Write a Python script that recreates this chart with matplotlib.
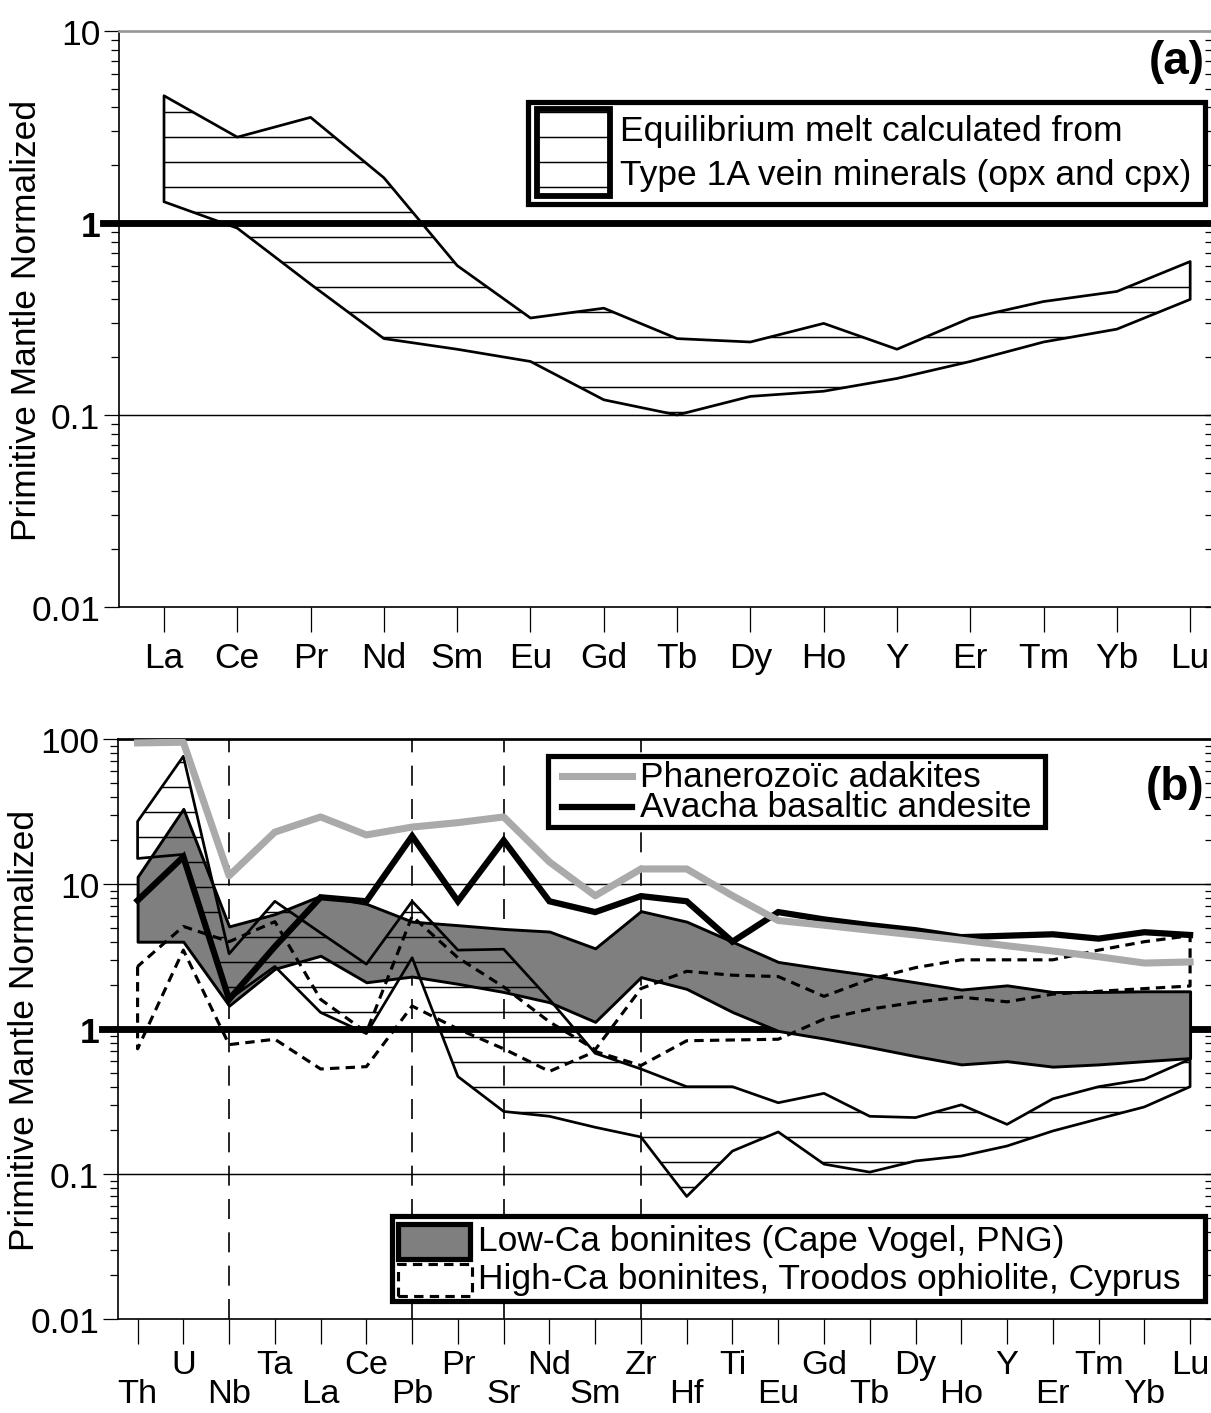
import numpy as np
import matplotlib
matplotlib.use("Agg")
import matplotlib.pyplot as plt
from matplotlib.patches import Rectangle
from matplotlib.lines import Line2D
from matplotlib.ticker import LogLocator, NullFormatter

plt.rcParams['font.family'] = ['Liberation Sans', 'DejaVu Sans']
plt.rcParams['hatch.linewidth'] = 0.7

# --- panel (a): REE of the equilibrium melt ---
ree = ['La', 'Ce', 'Pr', 'Nd', 'Sm', 'Eu', 'Gd', 'Tb', 'Dy', 'Ho', 'Y', 'Er', 'Tm', 'Yb', 'Lu']
melt_hi_a = [4.6, 2.8, 3.55, 1.72, 0.6, 0.32, 0.36, 0.25, 0.24, 0.3, 0.22, 0.32, 0.39, 0.44, 0.63]
melt_lo_a = [1.29, 0.94, 0.48, 0.25, 0.22, 0.19, 0.12, 0.1, 0.125, 0.133, 0.155, 0.19, 0.24, 0.28, 0.40]

# --- panel (b): extended spider diagram ---
elems = ['Th', 'U', 'Nb', 'Ta', 'La', 'Ce', 'Pb', 'Pr', 'Sr', 'Nd', 'Sm', 'Zr',
         'Hf', 'Ti', 'Eu', 'Gd', 'Tb', 'Dy', 'Ho', 'Y', 'Er', 'Tm', 'Yb', 'Lu']
adakites = [94, 95, 11.4, 22.8, 29, 21.8, 24.7, 26.5, 29, 14.2, 8.3, 12.7,
            12.7, 8.3, 5.6, 5.2, 4.8, 4.45, 4.1, 3.75, 3.45, 3.15, 2.85, 2.9]
avacha = [7.7, 15.4, 1.6, 3.7, 8.1, 7.6, 21.4, 7.6, 20, 7.6, 6.4, 8.25,
          7.6, 4.0, 6.4, 5.7, 5.2, 4.8, 4.3, 4.4, 4.5, 4.2, 4.65, 4.45]
lowca_hi = [11.2, 33, 5.1, 6.2, 8.3, 7.3, 5.5, 5.2, 4.9, 4.7, 3.6, 6.5,
            5.5, 4.0, 2.9, 2.6, 2.35, 2.1, 1.87, 2.0, 1.8, 1.8, 1.82, 1.82]
lowca_lo = [4.0, 4.0, 1.45, 2.6, 3.2, 2.1, 2.3, 2.05, 1.8, 1.53, 1.12, 2.28,
            1.89, 1.31, 0.97, 0.86, 0.75, 0.65, 0.57, 0.6, 0.55, 0.57, 0.6, 0.63]
melt_hi_b = [27, 76, 3.3, 7.6, 4.6, 2.8, 7.6, 3.5, 3.55, 1.6, 0.68, 0.53,
             0.4, 0.4, 0.31, 0.36, 0.25, 0.245, 0.3, 0.22, 0.33, 0.4, 0.45, 0.62]
melt_lo_b = [15, 16, 1.6, 2.7, 1.3, 0.93, 3.1, 0.47, 0.27, 0.25, 0.21, 0.18,
             0.07, 0.144, 0.195, 0.117, 0.103, 0.123, 0.133, 0.156, 0.198, 0.24, 0.29, 0.40]
hica_hi = [2.7, 5.1, 4.0, 5.5, 1.6, 0.95, 6.0, 3.1, 1.95, 1.12, 0.72, 1.9,
           2.5, 2.35, 2.3, 1.68, 2.2, 2.65, 3.0, 3.0, 3.0, 3.5, 4.0, 4.4]
hica_lo = [0.73, 3.5, 0.78, 0.85, 0.53, 0.55, 1.44, 1.0, 0.73, 0.51, 0.7, 0.56,
           0.83, 0.84, 0.85, 1.17, 1.37, 1.53, 1.66, 1.54, 1.74, 1.82, 1.9, 1.98]
dashed_at = ['Nb', 'Pb', 'Sr', 'Zr']

W, H = 1211, 1414
fig = plt.figure(figsize=(W / 150, H / 150), dpi=150)
ax1 = fig.add_axes([119 / W, 1 - 608 / H, 1092 / W, 576 / H])
ax2 = fig.add_axes([118 / W, 1 - 1320 / H, 1093 / W, 580 / H])


def style_axes(ax, decades, top_color):
    ax.set_yscale('log')
    ax.set_ylim(decades[0], decades[-1])
    ax.set_yticks(decades)
    labels = ['%g' % d for d in decades]
    ax.set_yticklabels(labels)
    for t, d in zip(ax.get_yticklabels(), decades):
        if d == 1:
            t.set_fontweight('bold')
    ax.yaxis.set_minor_locator(LogLocator(base=10, subs=np.arange(2, 10) * 1.0, numticks=50))
    ax.yaxis.set_minor_formatter(NullFormatter())
    ax.tick_params(axis='y', which='major', direction='out', length=7, width=0.6,
                   labelsize=17, pad=2)
    ax.tick_params(axis='y', which='minor', direction='out', length=4, width=0.6)
    ax.spines['right'].set_visible(False)
    ax.spines['top'].set_color(top_color)
    ax.spines['top'].set_linewidth(1.3)
    ax.spines['left'].set_linewidth(0.8)
    ax.spines['bottom'].set_linewidth(0.8)
    for d in decades[1:-1]:
        if d != 1:
            ax.axhline(d, color='black', lw=0.7, zorder=1)
    ax.axhline(1, xmin=-0.015, color='black', lw=3.3, clip_on=False, zorder=1.5)
    ax.set_ylabel('Primitive Mantle Normalized', fontsize=17)
    ax.yaxis.set_label_coords(-0.07, 0.5)
    sec = ax.secondary_yaxis('right')
    sec.yaxis.set_minor_locator(LogLocator(base=10, subs=np.arange(2, 10) * 1.0, numticks=50))
    sec.tick_params(which='both', direction='in', length=3, width=0.6,
                    labelright=False)
    sec.spines['right'].set_visible(False)


# ---------------- panel (a) ----------------
style_axes(ax1, [0.01, 0.1, 1, 10], '#999999')
xa = np.arange(len(ree))
ax1.fill_between(xa, melt_lo_a, melt_hi_a, facecolor='none', edgecolor='black',
                 hatch='-', lw=1.3, zorder=3)
ax1.set_xlim(-0.614, 14.284)
ax1.set_xticks(xa)
ax1.set_xticklabels(ree)
ax1.tick_params(axis='x', direction='out', length=12, width=0.6, labelsize=17, pad=4.5)

ax1.add_patch(Rectangle((0.3745, 0.6997), 0.62, 0.177, transform=ax1.transAxes,
                        facecolor='white', edgecolor='black', lw=2.5, zorder=10))
ax1.add_patch(Rectangle((0.3828, 0.7135), 0.0668, 0.151, transform=ax1.transAxes,
                        facecolor='white', edgecolor='black', hatch='-', lw=2.8, zorder=11))
ax1.text(0.4588, 0.828, 'Equilibrium melt calculated from', transform=ax1.transAxes,
         ha='left', va='center', fontsize=17, zorder=12)
ax1.text(0.4588, 0.75, 'Type 1A vein minerals (opx and cpx)', transform=ax1.transAxes,
         ha='left', va='center', fontsize=17, zorder=12)
ax1.text(0.994, 0.948, '(a)', transform=ax1.transAxes, ha='right', va='center',
         fontsize=22, fontweight='bold', zorder=12)

# ---------------- panel (b) ----------------
style_axes(ax2, [0.01, 0.1, 1, 10, 100], 'black')
xb = np.arange(len(elems))
for el in dashed_at:
    ax2.axvline(elems.index(el), color='black', lw=0.8, dashes=(12, 8), zorder=1.2)

ax2.fill_between(xb, lowca_lo, lowca_hi, facecolor='#7f7f7f', edgecolor='black',
                 lw=1.4, zorder=2)
ax2.fill_between(xb, melt_lo_b, melt_hi_b, facecolor='none', edgecolor='black',
                 hatch='-', lw=1.3, zorder=3)
ax2.fill_between(xb, hica_lo, hica_hi, facecolor='none', edgecolor='black',
                 lw=1.5, linestyle=(0, (3, 2)), zorder=3.5)
ax2.plot(xb, avacha, color='black', lw=3.0, zorder=4, solid_joinstyle='miter')
ax2.plot(xb, adakites, color='#aaaaaa', lw=3.4, zorder=5)

ax2.set_xlim(-0.428, 23.457)
ax2.set_xticks(xb[::2])
ax2.set_xticklabels(elems[::2])
ax2.set_xticks(xb[1::2], minor=True)
ax2.set_xticklabels(elems[1::2], minor=True)
ax2.tick_params(axis='x', which='both', direction='out', length=12, width=0.6, labelsize=16.5)
ax2.tick_params(axis='x', which='major', pad=16.5)
ax2.tick_params(axis='x', which='minor', pad=2.5)

ax2.add_patch(Rectangle((0.3934, 0.848), 0.4547, 0.1227, transform=ax2.transAxes,
                        facecolor='white', edgecolor='black', lw=2.5, zorder=10))
ax2.add_line(Line2D([0.406, 0.470], [0.936, 0.936], transform=ax2.transAxes,
                    color='#aaaaaa', lw=3.4, zorder=11))
ax2.add_line(Line2D([0.406, 0.470], [0.8828, 0.8828], transform=ax2.transAxes,
                    color='black', lw=3.0, zorder=11))
ax2.text(0.4776, 0.936, 'Phanerozoïc adakites', transform=ax2.transAxes,
         ha='left', va='center', fontsize=17, zorder=12)
ax2.text(0.4776, 0.8828, 'Avacha basaltic andesite', transform=ax2.transAxes,
         ha='left', va='center', fontsize=17, zorder=12)

ax2.add_patch(Rectangle((0.2507, 0.031), 0.7438, 0.1466, transform=ax2.transAxes,
                        facecolor='white', edgecolor='black', lw=2.5, zorder=10))
ax2.add_patch(Rectangle((0.2562, 0.1034), 0.0658, 0.0604, transform=ax2.transAxes,
                        facecolor='#7f7f7f', edgecolor='black', lw=2.5, zorder=11))
ax2.add_patch(Rectangle((0.2562, 0.0397), 0.0677, 0.0551, transform=ax2.transAxes,
                        facecolor='white', edgecolor='black', lw=1.5,
                        linestyle=(0, (3, 2)), zorder=11))
ax2.text(0.3294, 0.1345, 'Low-Ca boninites (Cape Vogel, PNG)', transform=ax2.transAxes,
         ha='left', va='center', fontsize=17, zorder=12)
ax2.text(0.3294, 0.069, 'High-Ca boninites, Troodos ophiolite, Cyprus',
         transform=ax2.transAxes, ha='left', va='center', fontsize=17, zorder=12)
ax2.text(0.994, 0.917, '(b)', transform=ax2.transAxes, ha='right', va='center',
         fontsize=22, fontweight='bold', zorder=12)

fig.savefig('out.png', dpi=150)
